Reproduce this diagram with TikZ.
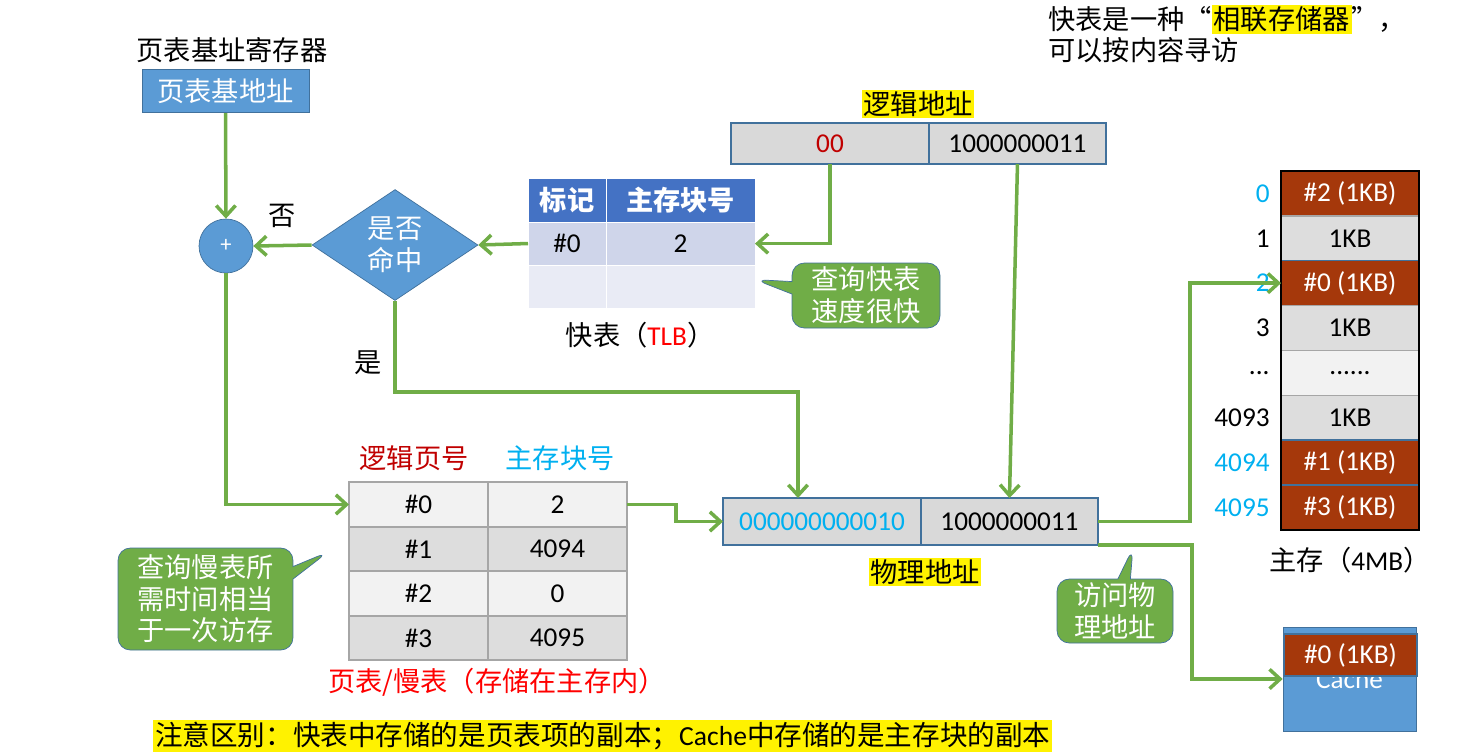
\documentclass[tikz,border=0pt]{standalone}
\usepackage{fontspec}
\setmainfont{Noto Sans CJK SC}
\newfontfamily\lat{Carlito}
\usetikzlibrary{arrows.meta,positioning,shapes.geometric,shapes.callouts}
\definecolor{blkblue}{RGB}{91,155,213}
\definecolor{blkedge}{RGB}{65,113,156}
\definecolor{flowgreen}{RGB}{112,173,71}
\definecolor{tlbhead}{RGB}{68,114,196}
\definecolor{tlbone}{RGB}{207,213,234}
\definecolor{tlbtwo}{RGB}{233,235,245}
\definecolor{addrgrey}{RGB}{217,217,217}
\definecolor{darkred}{RGB}{192,0,0}
\definecolor{skycyan}{RGB}{0,176,240}
\definecolor{blockbrown}{RGB}{165,56,11}
\definecolor{cellgrey}{RGB}{221,221,221}
\definecolor{celllight}{RGB}{242,242,242}
\definecolor{celledge}{RGB}{166,166,166}
\setlength{\fboxsep}{1pt}

\begin{document}
\fontsize{15.5}{18}\selectfont
\begin{tikzpicture}[x=0.02cm, y=-0.02cm,
    blk/.style={rectangle, fill=blkblue, draw=blkedge, text=white},
    flow/.style={draw=flowgreen, line width=2pt, -{Straight Barb[length=6pt,width=11pt]}},
    tlbh/.style={rectangle, fill=tlbhead, draw=white, text=white, font=\bfseries, minimum height=0.84cm, outer sep=0pt},
    tlbc/.style={rectangle, draw=white, minimum height=0.86cm, outer sep=0pt},
    addr/.style={rectangle, fill=addrgrey, draw=blkedge, line width=0.9pt, minimum height=0.82cm, outer sep=0pt},
    pcell/.style={rectangle, draw=celledge, line width=1.1pt, minimum width=2.78cm, minimum height=0.89cm, outer sep=0pt},
    mem/.style={rectangle, fill=cellgrey, draw=celledge, line width=0.8pt, minimum width=2.76cm, minimum height=0.8975cm, outer sep=0pt},
    used/.style={mem, fill=blockbrown, draw=blkedge, text=white},
    hl/.style={fill=yellow, inner sep=1pt},
    tip/.style={rectangle callout, rounded corners=7pt, fill=flowgreen, draw=blkedge, text=white, align=center, inner sep=2pt}
  ]
    \useasboundingbox (0,0) rectangle (1462,752);

    % page table base register
    \node (regname) at (232,50) {页表基址寄存器};
    \node[blk, minimum width=3.34cm, minimum height=0.84cm] (base) at (225.5,91) {页表基地址};
    \node[blk, circle, minimum size=1.08cm, inner sep=0pt, font=\large] (circ) at (226,246) {+};
    \node[blk, diamond, minimum width=3.32cm, minimum height=2.22cm, inner sep=0pt, align=center] (dia) at (395,245) {是否\\命中};

    % TLB
    \node[tlbh, minimum width=1.56cm] (t01) at (567,200) {标记};
    \node[tlbh, minimum width=2.98cm, right=0pt of t01] (t02) {主存块号};
    \node[tlbc, fill=tlbone, minimum width=1.56cm, below=0pt of t01] (t11) {\lat\#0};
    \node[tlbc, fill=tlbone, minimum width=2.98cm, below=0pt of t02] (t12) {\lat 2};
    \node[tlbc, fill=tlbtwo, minimum width=1.56cm, below=0pt of t11] (t21) {};
    \node[tlbc, fill=tlbtwo, minimum width=2.98cm, below=0pt of t12] (t22) {};
    \node (tlbname) at (640,335) {快表（{\lat\color{red}TLB}）};

    % logical address
    \node[addr, minimum width=3.96cm] (la0) at (830,143.5) {\lat\color{darkred}00};
    \node[addr, minimum width=3.54cm, right=0pt of la0] (la1) {\lat 1000000011};
    \node[hl] (laname) at (918,104) {逻辑地址};

    \node[tip, minimum width=2.96cm, minimum height=1.3cm,
          callout absolute pointer={([yshift=0.14cm]t22.east)}] (tip1) at (866,295.5) {查询快表\\速度很快};

    % page table (slow table)
    \node[text=darkred] (phead1) at (414,458) {逻辑页号};
    \node[text=skycyan] (phead2) at (560,458) {主存块号};
    \node[pcell, fill=celllight] (p01) at (418.5,504.5) {\lat\#0};
    \node[pcell, fill=celllight, right=0pt of p01] (p02) {\lat 2};
    \node[pcell, fill=cellgrey, below=0pt of p01] (p11) {\lat\#1};
    \node[pcell, fill=cellgrey, below=0pt of p02] (p12) {\lat 4094};
    \node[pcell, fill=celllight, below=0pt of p11] (p21) {\lat\#2};
    \node[pcell, fill=celllight, below=0pt of p12] (p22) {\lat 0};
    \node[pcell, fill=cellgrey, below=0pt of p21] (p31) {\lat\#3};
    \node[pcell, fill=cellgrey, below=0pt of p22] (p32) {\lat 4095};
    \node[text=red] (ptname) at (497,682) {页表/慢表（存储在主存内）};

    \node[tip, minimum width=3.5cm, minimum height=2.04cm,
          callout absolute pointer={([xshift=-0.42cm,yshift=-0.06cm]p11.west)}] (tip2) at (205.5,599) {查询慢表所\\需时间相当\\于一次访存};

    % physical address
    \node[addr, minimum width=3.96cm, minimum height=0.94cm] (pa0) at (822,521.5) {\lat\color{skycyan}000000000010};
    \node[addr, minimum width=3.54cm, minimum height=0.94cm, right=0pt of pa0] (pa1) {\lat 1000000011};
    \node[hl] (paname) at (925,572) {物理地址};

    \node[tip, minimum width=2.32cm, minimum height=1.28cm,
          callout absolute pointer={([xshift=0.7cm,yshift=-0.06cm]pa1.south east)}] (tip3) at (1115,611) {访问物\\理地址};

    % main memory
    \node[used] (m0) at (1350,193.4) {\lat\#2 (1KB)};
    \node[mem, below=0pt of m0] (m1) {\lat 1KB};
    \node[used, below=0pt of m1] (m2) {\lat\#0 (1KB)};
    \node[mem, below=0pt of m2] (m3) {\lat 1KB};
    \node[mem, fill=celllight, below=0pt of m3] (m4) {\lat ......};
    \node[mem, below=0pt of m4] (m5) {\lat 1KB};
    \node[used, below=0pt of m5] (m6) {\lat\#1 (1KB)};
    \node[used, below=0pt of m6] (m7) {\lat\#3 (1KB)};
    \draw[line width=1.2pt] (m0.north west) rectangle (m7.south east);
    \node[left=0.04cm of m0, text=skycyan] (a0) {\lat 0};
    \node[left=0.04cm of m1] (a1) {\lat 1};
    \node[left=0.04cm of m2, text=skycyan] (a2) {\lat 2};
    \node[left=0.04cm of m3] (a3) {\lat 3};
    \node[left=0.04cm of m4] (a4) {\lat ...};
    \node[left=0.04cm of m5] (a5) {\lat 4093};
    \node[left=0.04cm of m6, text=skycyan] (a6) {\lat 4094};
    \node[left=0.04cm of m7, text=skycyan] (a7) {\lat 4095};
    \node (memname) at (1350,560) {主存（{\lat 4MB}）};

    % cache
    \node[blk, minimum width=2.66cm, minimum height=2.08cm] (cache) at (1349.5,679) {\lat Cache};
    \node[used, minimum width=2.66cm, minimum height=0.8cm] (cached) at (1350.5,655) {\lat\#0 (1KB)};

    % notes
    \node[anchor=west, align=left] (assoc) at (1039,34) {快表是一种“\colorbox{yellow}{相联存储器}”，\\可以按内容寻访};
    \node[hl, anchor=west, font=\fontsize{15.7}{19}\selectfont] (note) at (153,736) {注意区别：快表中存储的是页表项的副本；{\lat Cache}中存储的是主存块的副本};

    % connectors
    \draw[flow] (base) -- (circ);
    \draw[flow] (dia.west) -- node[above=0.14cm] (nolab) {否} (circ.east);
    \draw[flow] (t11.west) -- (dia.east);
    \draw[flow] (la0.south) |- (t12.east);
    \draw[flow] (dia.south) -- node[left=0.04cm, pos=0.68] (yeslab) {是} ++(0,91) -| ([xshift=-0.48cm]pa0.north);
    \draw[flow] (circ.south) |- (p01.west);
    \draw[flow] (p02.east) -- ++(49,0) |- (pa0.west);
    \draw[flow] (la1.south) -- (pa1.north);
    \draw[flow] (pa1.east) -- ++(92,0) |- (m2.west);
    \draw[flow] (pa1.south east) -- ++(94,0) |- (cache.west);
  \end{tikzpicture}
\end{document}
